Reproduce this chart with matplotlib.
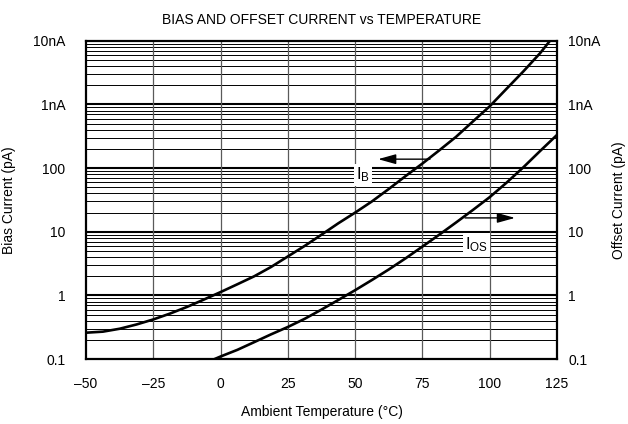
import numpy as np
import matplotlib
matplotlib.use("Agg")
import matplotlib.pyplot as plt
from matplotlib.ticker import FixedLocator, NullFormatter

plt.rcParams['font.family'] = ['Liberation Sans', 'DejaVu Sans']
plt.rcParams['axes.unicode_minus'] = True

# valores (corriente en pA)
temp_ib = [-50, -43.75, -37.5, -31.25, -25, -18.75, -12.5, -6.25, 0, 6.25, 12.5, 18.75,
           25, 31.25, 37.5, 43.75, 50, 56.25, 62.5, 68.75, 75, 81.25, 87.5, 93.75,
           100, 106.25, 112.5, 118.75, 122.4]
bias_pa = [0.26, 0.27, 0.30, 0.35, 0.42, 0.52, 0.66, 0.86, 1.13, 1.5, 2.0, 2.8,
           4.1, 6.0, 9.0, 13.6, 20, 30, 47, 75, 118, 190, 310, 540,
           935, 1760, 3300, 6400, 10000]

temp_ios = [-2.3, 0, 6.25, 12.5, 18.75, 25, 31.25, 37.5, 43.75, 50, 56.25, 62.5,
            68.75, 75, 81.25, 87.5, 93.75, 100, 106.25, 112.5, 118.75, 125]
offset_pa = [0.1, 0.11, 0.14, 0.185, 0.245, 0.32, 0.43, 0.60, 0.85, 1.21, 1.75, 2.56,
             3.83, 5.86, 9.0, 14.0, 22, 35, 59, 103, 186, 332]

x_ticks = [-50, -25, 0, 25, 50, 75, 100, 125]
y_ticks = [0.1, 1, 10, 100, 1000, 10000]
y_labels = ["0.1", "1", "10", "100", "1nA", "10nA"]

fig = plt.figure(figsize=(6.28, 4.24), dpi=100)
ax = fig.add_axes([0.137, 0.153, 0.75, 0.751])
ax.set_yscale('log')
ax.set_xlim(-50, 125)
ax.set_ylim(0.1, 10000)

# rejilla: decadas gruesas, subdivisiones finas
minors = [m * 10.0 ** d for d in range(-1, 4) for m in range(2, 10)]
for v in minors:
    ax.axhline(v, color='black', lw=0.7, zorder=1)
for v in y_ticks[1:-1]:
    ax.axhline(v, color='black', lw=1.5, zorder=1)
for t in x_ticks[1:-1]:
    ax.axvline(t, color='#5a5a5a', lw=0.9, zorder=1)

ax.plot(temp_ib, bias_pa, color='black', lw=1.9, zorder=3)
ax.plot(temp_ios, offset_pa, color='black', lw=1.9, zorder=3)

ax.set_xticks(x_ticks)
ax.set_xticklabels([f"{t}".replace('-', '\u2013') for t in x_ticks])
ax.yaxis.set_major_locator(FixedLocator(y_ticks))
ax.set_yticklabels(y_labels)
ax.yaxis.set_minor_formatter(NullFormatter())
ax.tick_params(which='both', length=0, labelsize=10)
ax.tick_params(axis='x', pad=13)
ax.tick_params(axis='y', pad=15)

for s in ax.spines.values():
    s.set_linewidth(1.6)
    s.set_zorder(4)

ax2 = ax.twinx()
ax2.set_yscale('log')
ax2.set_ylim(0.1, 10000)
ax2.yaxis.set_major_locator(FixedLocator(y_ticks))
ax2.set_yticklabels(y_labels)
ax2.yaxis.set_minor_formatter(NullFormatter())
ax2.tick_params(which='both', length=0, labelsize=10, pad=8)
for s in ax2.spines.values():
    s.set_visible(False)

ax.set_xlabel("Ambient Temperature (\u00b0C)", fontsize=10, labelpad=10)
ax.set_ylabel("Bias Current (pA)", fontsize=10, labelpad=12)
ax2.set_ylabel("Offset Current (pA)", fontsize=10, labelpad=8)
ax.set_title("BIAS AND OFFSET CURRENT vs TEMPERATURE", fontsize=10, pad=12)

# etiquetas con flechas
flecha = dict(arrowstyle='-|>,head_length=0.9,head_width=0.25', color='black',
              lw=1.0, mutation_scale=12, shrinkA=0, shrinkB=0)
ax.text(52.9, 78, r'$\mathregular{I_B}$', fontsize=12, ha='center', va='center', zorder=5,
        bbox=dict(facecolor='white', edgecolor='none', pad=1.5))
ax.annotate('', xy=(58.5, 138), xytext=(77.8, 138), arrowprops=flecha, zorder=5)
ax.text(94.9, 6.3, r'$\mathregular{I_{OS}}$', fontsize=12, ha='center', va='center', zorder=5,
        bbox=dict(facecolor='white', edgecolor='none', pad=1.5))
ax.annotate('', xy=(109.4, 16.5), xytext=(90.8, 16.5), arrowprops=flecha, zorder=5)

fig.savefig("out.png", dpi=100)
